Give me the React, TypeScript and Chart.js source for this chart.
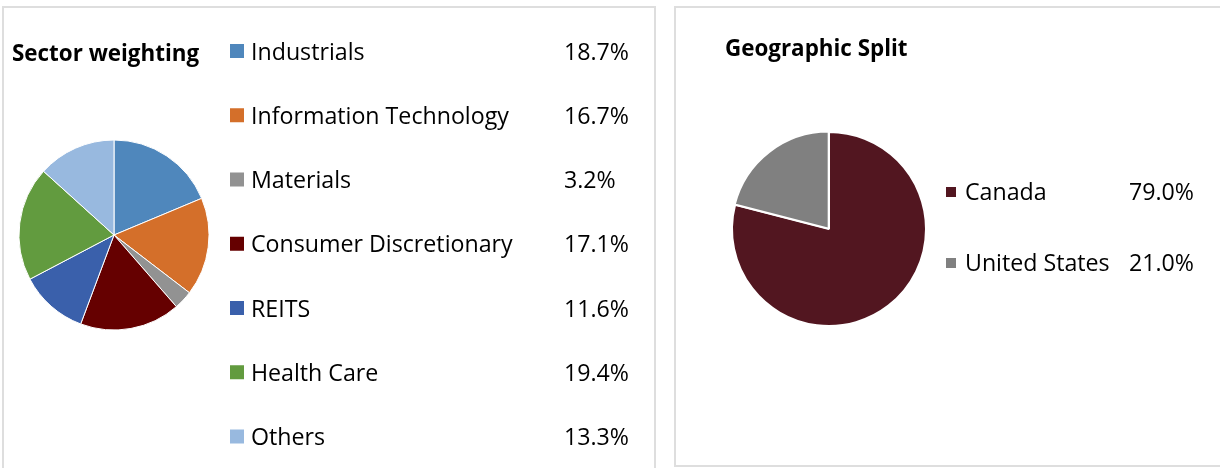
import React, { useEffect, useRef } from "react";
import { Chart, registerables } from "chart.js";

Chart.register(...registerables);

const sectorLabels = [
  "Industrials",
  "Information Technology",
  "Materials",
  "Consumer Discretionary",
  "REITS",
  "Health Care",
  "Others",
];
const sectorValues = [18.7, 16.7, 3.2, 17.1, 11.6, 19.4, 13.3];
const sectorColors = ["#4F87BC", "#D46F2A", "#929292", "#650000", "#3A60AB", "#629B3F", "#98B9DF"];

const geoLabels = ["Canada", "United States"];
const geoValues = [79.0, 21.0];
const geoColors = ["#521620", "#808080"];

const FONT = "'Open Sans', 'Noto Sans', sans-serif";

const sideLegend = {
  id: "sideLegend",
  afterDraw(chart: any, _args: any, o: any) {
    const ctx = chart.ctx as CanvasRenderingContext2D;
    const ds = chart.data.datasets[0];
    const labels = chart.data.labels as string[];
    ctx.save();
    ctx.textBaseline = "alphabetic";
    ctx.textAlign = "left";
    ctx.fillStyle = "#000";
    ctx.font = `bold ${o.titleSize}px ${FONT}`;
    ctx.fillText(o.title, o.titleX, o.titleY);
    ctx.font = `${o.size}px ${FONT}`;
    labels.forEach((lab, i) => {
      const y = o.rowY + i * o.rowStep;
      ctx.fillStyle = ds.backgroundColor[i];
      ctx.fillRect(o.boxX, y - o.boxLift - o.boxSize / 2, o.boxSize, o.boxSize);
      ctx.fillStyle = "#000";
      ctx.fillText(lab, o.labelX, y);
      ctx.fillText(Number(ds.data[i]).toFixed(1) + "%", o.valueX, y);
    });
    ctx.restore();
  },
};

function PieCanvas(props: {
  labels: string[];
  values: number[];
  colors: string[];
  width: number;
  height: number;
  left: number;
  padding: any;
  radius: number;
  borderWidth: number;
  offset: number[];
  legend: any;
}) {
  const ref = useRef<HTMLCanvasElement | null>(null);
  useEffect(() => {
    if (!ref.current) return;
    const chart = new Chart(ref.current, {
      type: "pie",
      data: {
        labels: props.labels,
        datasets: [
          {
            data: props.values,
            backgroundColor: props.colors,
            borderColor: "#ffffff",
            borderWidth: props.borderWidth,
            offset: props.offset,
          },
        ],
      },
      options: {
        responsive: false,
        animation: false,
        devicePixelRatio: 1,
        radius: props.radius,
        layout: { padding: props.padding },
        plugins: {
          legend: { display: false },
          tooltip: { enabled: false },
          title: { display: false },
          sideLegend: props.legend,
        } as any,
      },
      plugins: [sideLegend],
    } as any);
    return () => chart.destroy();
  }, []);
  return (
    <canvas
      ref={ref}
      width={props.width}
      height={props.height}
      style={{
        position: "absolute",
        left: props.left,
        top: 0,
        width: props.width,
        height: props.height,
      }}
    />
  );
}

export default function App() {
  return (
    <div
      style={{
        position: "absolute",
        left: 0,
        top: 0,
        width: 1220,
        height: 468,
        overflow: "hidden",
        background: "#fff",
      }}
    >
      <div
        style={{
          position: "absolute",
          left: 2,
          top: 6,
          width: 654,
          height: 480,
          boxSizing: "border-box",
          border: "2px solid #dedede",
        }}
      />
      <div
        style={{
          position: "absolute",
          left: 674,
          top: 6,
          width: 560,
          height: 461,
          boxSizing: "border-box",
          border: "2px solid #dedede",
        }}
      />
      <PieCanvas
        labels={sectorLabels}
        values={sectorValues}
        colors={sectorColors}
        width={664}
        height={468}
        left={0}
        padding={{ left: 19, top: 140, right: 455, bottom: 138 }}
        radius={95}
        borderWidth={1}
        offset={[0, 0, 0, 0, 0, 0, 0]}
        legend={{
          title: "Sector weighting",
          titleSize: 22.4,
          titleX: 12,
          titleY: 61,
          size: 23.2,
          boxX: 230,
          boxSize: 14,
          boxLift: 8.5,
          labelX: 251,
          valueX: 564,
          rowY: 59.5,
          rowStep: 64.25,
        }}
      />
      <PieCanvas
        labels={geoLabels}
        values={geoValues}
        colors={geoColors}
        width={556}
        height={468}
        left={664}
        padding={{ left: 68, top: 132, right: 294, bottom: 142 }}
        radius={97}
        borderWidth={2}
        offset={[0, 2]}
        legend={{
          title: "Geographic Split",
          titleSize: 22.4,
          titleX: 61,
          titleY: 56,
          size: 23.2,
          boxX: 282,
          boxSize: 10,
          boxLift: 7.5,
          labelX: 301,
          valueX: 465,
          rowY: 199.5,
          rowStep: 71,
        }}
      />
    </div>
  );
}
